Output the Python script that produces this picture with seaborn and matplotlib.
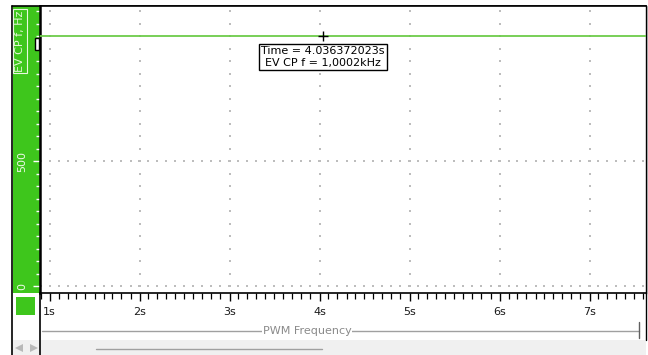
import numpy as np
import matplotlib
matplotlib.use("Agg")
import matplotlib.pyplot as plt
from matplotlib.patches import Rectangle
import seaborn as sns

# ---- data -------------------------------------------------------------
time_s = [0.80, 4.036372023, 7.70]          # sample times (s)
freq_hz = [1000.2, 1000.2, 1000.2]          # EV CP frequency (Hz)
cursor_time = 4.036372023
cursor_freq = 1000.2

x_major = [1, 2, 3, 4, 5, 6, 7]
x_labels = ["1s", "2s", "3s", "4s", "5s", "6s", "7s"]
y_major = [0, 500]
y_labels = ["0", "500"]
y_grid = [0, 500]

series_name = "PWM Frequency"
axis_title = "EV CP f, Hz"
tip_text = "Time = 4.036372023s\nEV CP f = 1,0002kHz"

# ---- style ------------------------------------------------------------
sns.set_theme(style="white")
plt.rcParams["font.family"] = ["DejaVu Sans"]

GREEN = "#3ec61c"
LINE_GREEN = "#6dcc4a"
DOT = "#bdbdbd"

W, H = 648, 355
fig = plt.figure(figsize=(W / 100, H / 100), dpi=100, facecolor="white")


def frac(x0, y0, x1, y1):
    """pixel box (top-left origin) -> figure fraction rect"""
    return [x0 / W, 1 - y1 / H, (x1 - x0) / W, (y1 - y0) / H]


# background layer in pixel coordinates
bg = fig.add_axes([0, 0, 1, 1])
bg.set_xlim(0, W)
bg.set_ylim(H, 0)
bg.axis("off")
bg.set_zorder(0)

bg.add_patch(Rectangle((13, 6), 27, 287, facecolor=GREEN, edgecolor="none"))
bg.add_patch(Rectangle((13, 340), 633, 15, facecolor="#f0f0f0", edgecolor="none"))
bg.add_patch(Rectangle((16, 297), 19, 18, facecolor=GREEN, edgecolor="none"))
bg.plot([12, 12], [6, 355], color="black", lw=1.2)
bg.plot([40, 40], [293, 355], color="black", lw=1.2)
bg.plot([12, 646], [6, 6], color="black", lw=1.2)
bg.plot([646, 646], [6, 340], color="black", lw=1.0)

# series legend strip
bg.plot([42, 639], [331, 331], color="#a0a0a0", lw=1.0)
bg.plot([639, 639], [322, 338], color="#606060", lw=1.0)
bg.text(307, 331, series_name, ha="center", va="center", fontsize=8,
        color="#8a8a8a",
        bbox=dict(boxstyle="square,pad=0.1", facecolor="white", edgecolor="none"))

# scroll bar
bg.plot([18.5], [348], marker="<", color="#b8b8b8", ms=6, mew=0)
bg.plot([33.5], [348], marker=">", color="#b8b8b8", ms=6, mew=0)
bg.plot([96, 322], [349, 349], color="#a0a0a0", lw=1.0)

# axis title in the green band
bg.text(20, 41, axis_title, rotation=90, ha="center", va="center", fontsize=8,
        color="#e2f6d6",
        bbox=dict(boxstyle="square,pad=0.15", facecolor="none",
                  edgecolor="#e8f8e0", lw=0.8))

# ---- main plot --------------------------------------------------------
ax = fig.add_axes(frac(40, 6, 646, 293))
ax.set_zorder(1)
ax.set_facecolor("white")

x_min, x_max = 1 - 9.5 / 90, 7 + 56.5 / 90
y_min, y_max = -7 / 0.25, 280 / 0.25
ax.set_xlim(x_min, x_max)
ax.set_ylim(y_min, y_max)

# dotted grid: dots at minor positions along major lines
minor_y = np.arange(0, 1101, 50)
minor_x = np.arange(0.9, 7.65, 0.1)
gx = np.repeat(x_major, len(minor_y))
gy = np.tile(minor_y, len(x_major))
ax.scatter(gx, gy, s=0.7, marker="s", color=DOT, linewidths=0, zorder=1)
hx = np.tile(minor_x, len(y_grid))
hy = np.repeat(y_grid, len(minor_x))
ax.scatter(hx, hy, s=0.7, marker="s", color=DOT, linewidths=0, zorder=1)

sns.lineplot(x=time_s, y=freq_hz, ax=ax, color=LINE_GREEN, lw=1.3, zorder=3)

ax.plot([cursor_time], [cursor_freq], marker="+", color="black", ms=7,
        mew=1.0, zorder=5)
ax.annotate(tip_text, xy=(cursor_time, cursor_freq), xytext=(0, -21),
            textcoords="offset pixels", ha="center", va="center",
            fontsize=8, color="black", linespacing=1.15, zorder=6,
            bbox=dict(boxstyle="square,pad=0.2", facecolor="white",
                      edgecolor="black", lw=1.0))

# cursor marker on the value axis
ax.add_patch(Rectangle((35, 38), 4, 12, facecolor="white", edgecolor="black",
                       lw=1.0, transform=bg.transData, clip_on=False,
                       zorder=6))

# ticks
ax.set_xticks(x_major)
ax.set_xticklabels(x_labels)
ax.set_xticks(np.arange(0.9, 7.65, 0.1), minor=True)
ax.set_yticks(y_major)
ax.set_yticklabels(y_labels, rotation=90, va="center")
ax.set_yticks(minor_y, minor=True)

ax.tick_params(axis="x", which="major", direction="out", length=5.8,
               width=1, color="black", labelsize=8, labelcolor="#1a1a1a",
               pad=4.5, bottom=True)
ax.tick_params(axis="x", which="minor", direction="out", length=4.5,
               width=0.9, color="black", bottom=True)
ax.tick_params(axis="y", which="major", direction="out", length=5,
               width=1, color="white", labelsize=8, labelcolor="#eef9e8",
               pad=4, left=True)
ax.tick_params(axis="y", which="minor", direction="out", length=3,
               width=1, color="white", left=True)

for side in ["left", "right", "top", "bottom"]:
    ax.spines[side].set_visible(True)
    ax.spines[side].set_color("black")
ax.spines["left"].set_linewidth(1.8)
ax.spines["bottom"].set_linewidth(1.2)
ax.spines["top"].set_linewidth(1.2)
ax.spines["right"].set_linewidth(1.0)
ax.set_xlabel("")
ax.set_ylabel("")

fig.savefig("out.png", dpi=100, facecolor="white")
